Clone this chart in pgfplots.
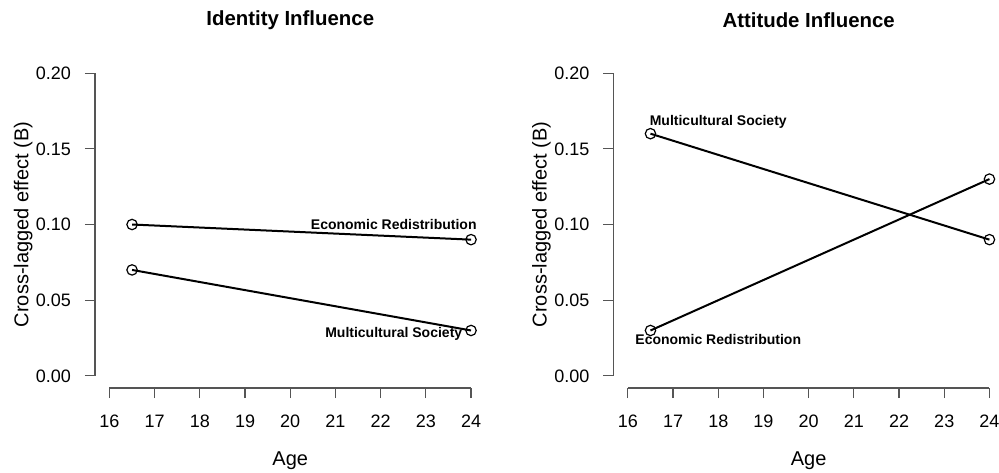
\documentclass[border=0pt]{standalone}
\usepackage{pgfplots}
\pgfplotsset{compat=1.18}
\usepackage{fontspec}
\setmainfont{Liberation Sans}
\definecolor{axgray}{HTML}{555555}
\tikzset{anno/.style={font=\bfseries\fontsize{7}{8}\selectfont, inner sep=0pt}}
\pgfplotsset{
  rline/.style={black, line width=1pt, mark=o, mark size=2.6pt, mark options={solid, black, line width=0.6pt, fill=none}},
  rstyle/.style={
    scale only axis,
    width=195.25pt, height=163.5pt,
    xmin=15.68, xmax=24.32, ymin=-0.008, ymax=0.208,
    axis x line*=bottom, axis y line*=left,
    axis line style={draw=none},
    xtick={16,17,...,24},
    ytick={0,0.05,0.10,0.15,0.20},
    scaled y ticks=false,
    tick align=outside,
    major tick length=5pt,
    tick style={axgray, line width=0.6pt},
    /pgf/number format/assume math mode=true,
    yticklabel style={/pgf/number format/.cd, fixed, fixed zerofill, precision=2},
    ticklabel style={font=\fontsize{9}{10}\selectfont},
    xticklabel shift=5pt,
    yticklabel shift=3.5pt,
    label style={font=\fontsize{10}{12}\selectfont},
    xlabel={Age},
    ylabel={Cross-lagged effect (B)},
    xlabel style={at={(axis description cs:0.5,-0.221)}, anchor=center},
    ylabel style={at={(axis description cs:-0.184,0.5)}, anchor=center, rotate=0},
    title style={at={(axis description cs:0.5,1)}, anchor=center, yshift=14.5pt, font=\bfseries\fontsize{10.2}{12}\selectfont},
    clip=false,
  },
}
\begin{document}
\begin{tikzpicture}
\path[use as bounding box] (0,0) rectangle (499.5pt,236pt);
\begin{axis}[rstyle, at={(47.5pt,42pt)}, anchor=south west, title={Identity Influence}]
  \addplot[rline] coordinates {(16.5,0.10) (24,0.09)};
  \addplot[rline] coordinates {(16.5,0.07) (24,0.03)};
  \draw[axgray, line width=0.6pt] (axis cs:16,-0.008) -- (axis cs:24,-0.008);
  \draw[axgray, line width=0.6pt] (axis cs:15.68,0) -- (axis cs:15.68,0.2);
  \node[anno] at (axis cs:22.29,0.1003) {Economic Redistribution};
  \node[anno] at (axis cs:22.29,0.0277) {Multicultural Society};
\end{axis}
\begin{axis}[rstyle, at={(306.7pt,42pt)}, anchor=south west, title={Attitude Influence}]
  \addplot[rline] coordinates {(16.5,0.16) (24,0.09)};
  \addplot[rline] coordinates {(16.5,0.03) (24,0.13)};
  \draw[axgray, line width=0.6pt] (axis cs:16,-0.008) -- (axis cs:24,-0.008);
  \draw[axgray, line width=0.6pt] (axis cs:15.68,0) -- (axis cs:15.68,0.2);
  \node[anno] at (axis cs:18.0,0.1679) {Multicultural Society};
  \node[anno] at (axis cs:18.0,0.0243) {Economic Redistribution};
\end{axis}
\end{tikzpicture}
\end{document}
